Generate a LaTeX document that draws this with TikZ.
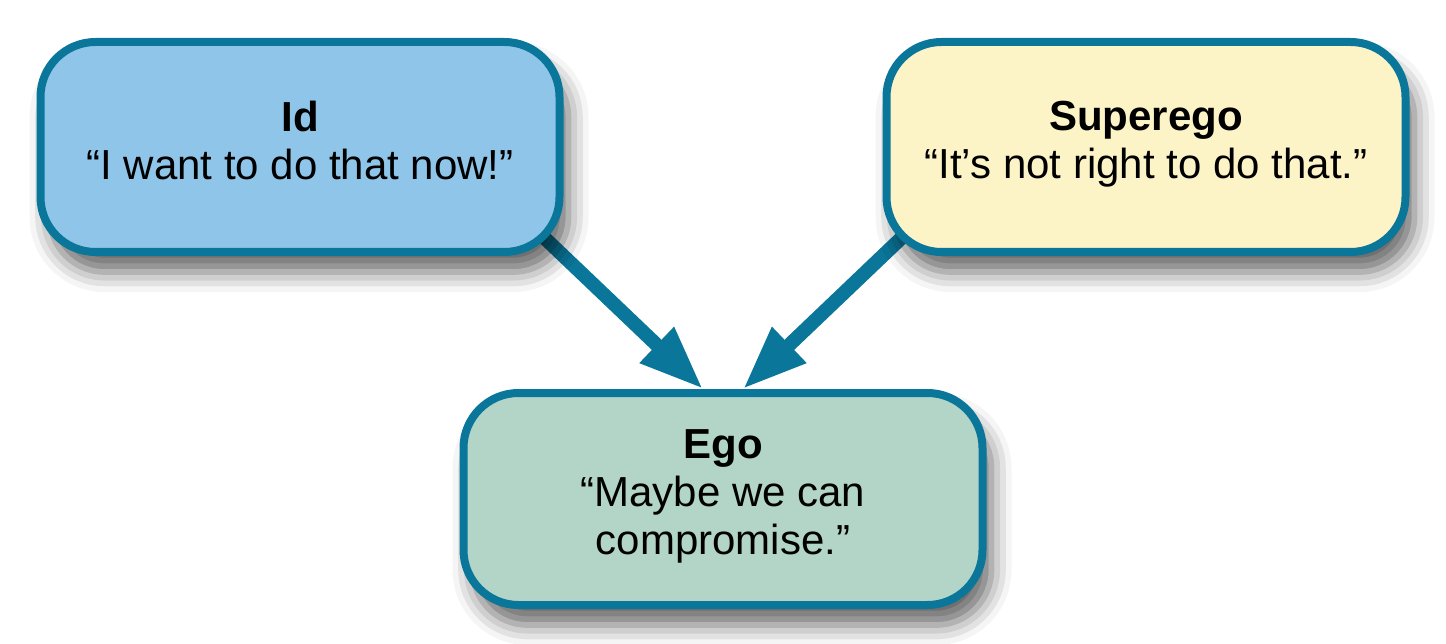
\documentclass[tikz,border=0pt]{standalone}
\usepackage{fontspec}
\setmainfont{Liberation Sans}
\usetikzlibrary{arrows.meta, positioning, calc, shadows.blur, backgrounds}

\definecolor{psyline}{HTML}{0A7699}
\definecolor{idfill}{HTML}{8FC5E8}
\definecolor{supfill}{HTML}{FCF3C7}
\definecolor{egofill}{HTML}{B2D5C8}

\begin{document}
\begin{tikzpicture}[x=1pt, y=1pt, font=\fontsize{42}{48}\selectfont]
  \tikzset{
    mind/.style={
      rounded corners=55pt,
      draw=psyline,
      line width=8pt,
      minimum width=519pt,
      minimum height=210pt,
      align=center,
      blur shadow={shadow xshift=9pt, shadow yshift=-20pt,
        shadow blur radius=20pt, shadow opacity=60}},
    push/.style={
      draw=psyline,
      line width=14pt,
      -{Triangle[length=64pt, width=46pt]}}}

  \useasboundingbox (0,0) rectangle (1446,-644);

  \node[mind, fill=idfill] (id) at (300,-147) {\textbf{Id}\\“I want to do that now!”\strut};
  \node[mind, fill=supfill] (sup) [right=319pt of id] {\textbf{Superego}\\“It’s not right to do that.”\strut};
  \coordinate (mid) at ($(id.south)!0.5!(sup.south)$);
  \node[mind, fill=egofill, minimum height=212pt] (ego) [below=133pt of mid]
    {\textbf{Ego}\\“Maybe we can\\compromise.”\strut};

  \coordinate (idin) at ([xshift=-20pt]ego.north);
  \coordinate (supin) at ([xshift=20pt]ego.north);

  \begin{pgfonlayer}{background}
    \draw[push] ($(id.south east)!-30pt!(idin)$) -- (idin);
    \draw[push] ($(sup.south west)!-30pt!(supin)$) -- (supin);
  \end{pgfonlayer}

\end{tikzpicture}
\end{document}
